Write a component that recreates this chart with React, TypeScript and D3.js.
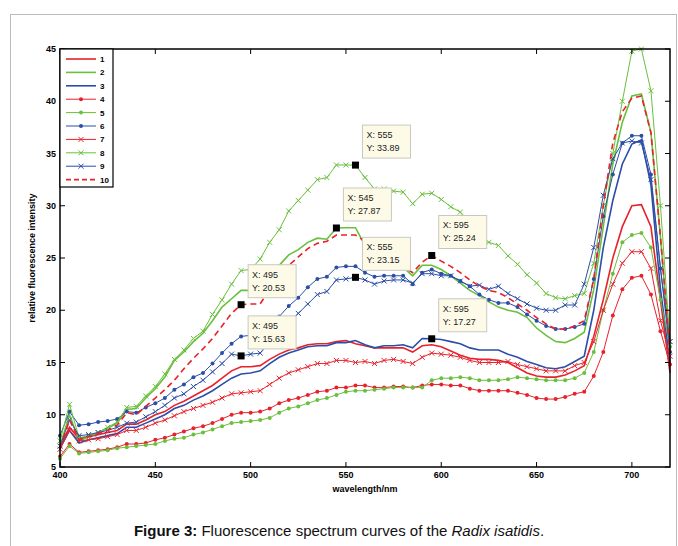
import { useEffect, useRef } from "react";
import * as d3 from "d3";

const wavelengths = d3.range(400, 721, 5);

const s1 = [7,8.8,7.7,7.9,8.1,8.3,8.5,9.1,9.1,9.5,10,10.3,10.9,11.3,11.8,12.3,12.8,13.5,14.2,14.6,14.6,14.7,15.3,15.8,16.2,16.4,16.7,16.8,16.8,17,17.1,16.8,16.6,16.4,16.4,16.4,16.4,16,16.6,16.7,16.5,16.1,15.7,15.4,15.3,15.3,15.2,15,14.5,14,13.7,13.6,13.6,13.8,14.2,14.7,17.5,21,25,28,30,30.1,28,21,14];
const s2 = [7,10,7.5,7.9,8.3,8.7,9.2,10.5,10.6,11.6,12.5,13.6,15.2,16,17,17.8,19,20.3,21.1,21.9,21.9,22.5,23.5,24.3,25.3,25.8,26.5,26.9,26.8,27.87,27.9,27.9,26.2,25,24.7,24.7,24.1,23.3,24.3,24.3,23.9,23.3,22.6,21.9,21.4,20.8,20.3,20,19.8,19.3,18.3,17.6,17,16.9,17.3,17.9,22,28,34,38,40.5,40.7,37,27,16];
const s3 = [6.8,8.5,7.3,7.6,7.8,8,8.2,8.8,8.8,9.2,9.6,10,10.6,10.9,11.4,11.8,12.3,12.9,13.5,13.9,14,14.2,14.9,15.5,15.9,16.2,16.5,16.6,16.6,16.9,16.9,17.1,16.7,16.4,16.6,16.6,16.7,16.4,17.3,17.27,17.2,17,16.8,16.4,16.2,16.2,16.2,15.8,15.5,15.1,14.8,14.5,14.4,14.6,15.1,15.6,20,26,30.5,34,35.9,36.3,32,22,15];
const s4 = [6,7.2,6.4,6.5,6.6,6.7,6.9,7.2,7.2,7.3,7.6,7.8,8.1,8.4,8.7,8.9,9.2,9.6,10,10.2,10.2,10.3,10.6,11.1,11.4,11.6,11.9,12.2,12.3,12.6,12.6,12.8,12.8,12.6,12.6,12.7,12.7,12.6,12.8,12.9,12.9,12.8,12.8,12.5,12.3,12.3,12.3,12.3,12.1,11.9,11.6,11.5,11.5,11.7,12,12.2,13.7,16,19.5,22,23.1,23.3,21.5,18,14.8];
const s5 = [5.8,7,6.3,6.4,6.5,6.6,6.8,6.9,7,7.1,7.2,7.5,7.7,7.8,8.1,8.3,8.6,8.9,9.2,9.3,9.4,9.5,9.7,10.2,10.6,10.8,11.1,11.4,11.6,11.9,12.2,12.3,12.3,12.4,12.5,12.6,12.6,12.6,12.6,13.3,13.5,13.5,13.6,13.5,13.3,13.3,13.3,13.4,13.6,13.5,13.4,13.3,13.3,13.3,13.5,14,16,20,23.5,26.5,27.2,27.4,26,21,16.5];
const s6 = [8,10.3,9,9.1,9.3,9.4,9.6,10.3,10.2,10.7,11.1,11.6,12.4,12.9,13.6,14,14.9,15.9,16.8,17.5,17.6,17.9,18,19.4,20.4,21.2,22.2,23,23.2,24.1,24.2,24.2,23.6,23.2,23.3,23.3,23.3,22.5,23.6,23.9,23.5,23.3,22.8,22.3,21.5,21,20.7,20.7,20.3,19.6,19,18.5,18.2,18.2,18.4,18.7,23,29,33,36,36.7,36.7,33,24,16];
const s7 = [6.7,8.5,7.5,7.6,7.7,7.9,8.1,8.5,8.5,8.8,9.2,9.5,9.9,10.3,10.6,10.9,11.2,11.6,12,12.1,12.2,12.3,12.9,13.5,14,14.3,14.6,14.9,14.9,15.2,15.2,15,15.1,14.9,15.2,15.3,15.1,14.9,15.5,15.9,15.8,15.7,15.5,15.2,15,15,15,15.1,14.8,14.6,14.4,14.2,14.2,14.2,14.7,15,17,20,22.5,24.5,25.6,25.6,24,19,15.6];
const s8 = [7.5,11,7.8,8,8.3,8.8,9.3,10.7,10.8,11.8,12.7,13.9,15.3,16.2,17.3,18,19.6,21,22.5,23.8,23.9,24.9,26.5,27.7,29.5,30.5,31.5,32.5,32.7,33.9,33.9,33.89,32.7,31.6,31.6,31.4,31.3,30.2,31.1,31.2,30.6,29.9,29.4,28.1,26.7,26.5,26.2,25.2,24.4,23.4,22.6,21.6,21.2,21.1,21.4,21.6,24.5,30,35,40,44.8,45,41,30,17];
const s9 = [7,9.5,8,8.1,8.3,8.5,8.8,9.2,9.3,9.8,10.3,10.9,11.6,12,12.7,13.3,14.1,14.9,15.8,15.63,15.8,15.9,17,17.9,18.8,19.7,20.6,21.5,21.8,22.9,23,23.15,22.9,22.5,22.8,22.9,22.9,22.6,23.5,23.5,23.3,23.3,22.8,22.3,22.4,22,22.3,21.6,21.1,20.6,20.2,20,20,20.5,20.5,22.5,26,31,34.5,36,36.2,36,32.5,24,17];
const s10 = [6.8,9.5,7.6,7.9,8.2,8.5,9,10.2,10,10.8,11.6,12.4,13.3,14.4,15.4,16.3,17.3,18.5,19.7,20.53,20.6,20.6,22,23.3,24.3,25.1,25.9,26.4,26.6,27.2,27.2,27.2,26.6,25.5,25,25,24.2,23.6,24.6,25.24,24.7,24.2,23.6,22.9,22.3,21.9,21.7,21.2,20.6,20,19.3,18.7,18.2,18.2,18.5,19,23,30,36,39,40.3,40.5,37,27,16];

const seriesNames = ["1","2","3","4","5","6","7","8","9","10"];
const seriesValues = [s1, s2, s3, s4, s5, s6, s7, s8, s9, s10];
const seriesColors = ["#e8212b","#6abf3c","#2b4ea6","#e8212b","#6abf3c","#2b4ea6","#e8212b","#6abf3c","#2b4ea6","#e8212b"];
const seriesMarkers = ["none","none","none","dot","dot","dot","x","x","x","dash"];

const dataTips = [
  { x: 555, y: 33.89 },
  { x: 545, y: 27.87 },
  { x: 495, y: 20.53 },
  { x: 495, y: 15.63 },
  { x: 555, y: 23.15 },
  { x: 595, y: 25.24 },
  { x: 595, y: 17.27 },
];

const xTicks = [400, 450, 500, 550, 600, 650, 700];
const yTicks = [5, 10, 15, 20, 25, 30, 35, 40, 45];

export default function App() {
  const ref = useRef<SVGSVGElement | null>(null);
  const W = 678, H = 546;
  const left = 60, right = 670, top = 49, bottom = 467;

  useEffect(() => {
    const svg = d3.select(ref.current);
    svg.selectAll("*").remove();
    const font = "Arial, 'Liberation Sans', sans-serif";
    const x = d3.scaleLinear().domain([400, 720]).range([left, right]);
    const y = d3.scaleLinear().domain([5, 45]).range([bottom, top]);

    svg.append("rect").attr("x", 10.5).attr("y", 14.5).attr("width", 666).attr("height", 540)
      .attr("fill", "none").attr("stroke", "#bbb").attr("stroke-width", 1);

    const line = d3.line<number>().x((_, i) => x(wavelengths[i])).y((d) => y(d));

    seriesValues.forEach((vals, k) => {
      const c = seriesColors[k], m = seriesMarkers[k];
      svg.append("path").attr("d", line(vals) as string).attr("fill", "none")
        .attr("stroke", c)
        .attr("stroke-width", m === "none" || m === "dash" ? 1.6 : 1)
        .attr("stroke-dasharray", m === "dash" ? "6,4" : null);
      if (m === "dot") {
        svg.append("g").selectAll("circle").data(vals).join("circle")
          .attr("cx", (_, i) => x(wavelengths[i])).attr("cy", (d) => y(d))
          .attr("r", 2).attr("fill", c);
      } else if (m === "x") {
        svg.append("g").selectAll("path").data(vals).join("path")
          .attr("transform", (d, i) => `translate(${x(wavelengths[i])},${y(d)})`)
          .attr("d", "M-2.5,-2.5L2.5,2.5M-2.5,2.5L2.5,-2.5")
          .attr("stroke", c).attr("stroke-width", 1);
      }
    });

    // frame + ticks
    svg.append("rect").attr("x", left).attr("y", top).attr("width", right - left).attr("height", bottom - top)
      .attr("fill", "none").attr("stroke", "#000").attr("stroke-width", 1.5);
    const g = svg.append("g").attr("font-family", font).attr("font-weight", "bold").attr("font-size", 9);
    xTicks.forEach((t) => {
      g.append("line").attr("x1", x(t)).attr("x2", x(t)).attr("y1", bottom).attr("y2", bottom - 5).attr("stroke", "#000");
      g.append("line").attr("x1", x(t)).attr("x2", x(t)).attr("y1", top).attr("y2", top + 5).attr("stroke", "#000");
      g.append("text").attr("x", x(t)).attr("y", bottom + 11).attr("text-anchor", "middle").text(t);
    });
    yTicks.forEach((t) => {
      g.append("line").attr("x1", left).attr("x2", left + 5).attr("y1", y(t)).attr("y2", y(t)).attr("stroke", "#000");
      g.append("line").attr("x1", right).attr("x2", right - 5).attr("y1", y(t)).attr("y2", y(t)).attr("stroke", "#000");
      g.append("text").attr("x", left - 4).attr("y", y(t) + 3).attr("text-anchor", "end").text(t);
    });
    g.append("text").attr("x", (left + right) / 2).attr("y", bottom + 25).attr("text-anchor", "middle").text("wavelength/nm");
    g.append("text").attr("transform", `translate(35,${(top + bottom) / 2}) rotate(-90)`)
      .attr("text-anchor", "middle").text("relative fluorescence intensity");

    // data tips
    dataTips.forEach((d) => {
      const px = x(d.x), py = y(d.y);
      const tg = svg.append("g").attr("font-family", font).attr("font-size", 9);
      tg.append("rect").attr("x", px + 7).attr("y", py - 40).attr("width", 48).attr("height", 33)
        .attr("fill", "#fdfbe8").attr("stroke", "#c8c8c0");
      tg.append("text").attr("x", px + 11).attr("y", py - 27).attr("fill", "#222").text(`X: ${d.x}`);
      tg.append("text").attr("x", px + 11).attr("y", py - 14).attr("fill", "#222").text(`Y: ${d.y.toFixed(2)}`);
      tg.append("rect").attr("x", px - 3.5).attr("y", py - 3.5).attr("width", 7).attr("height", 7).attr("fill", "#000");
    });

    // legend
    const lg = svg.append("g").attr("font-family", font).attr("font-weight", "bold").attr("font-size", 8);
    lg.append("rect").attr("x", left).attr("y", top).attr("width", 53).attr("height", 138)
      .attr("fill", "#fff").attr("stroke", "#000").attr("stroke-width", 1.2);
    seriesNames.forEach((n, k) => {
      const ly = top + 10 + k * 13.4;
      const c = seriesColors[k], m = seriesMarkers[k];
      lg.append("line").attr("x1", left + 6).attr("x2", left + 36).attr("y1", ly).attr("y2", ly)
        .attr("stroke", c).attr("stroke-width", m === "none" || m === "dash" ? 1.6 : 1)
        .attr("stroke-dasharray", m === "dash" ? "5,3" : null);
      if (m === "dot") lg.append("circle").attr("cx", left + 21).attr("cy", ly).attr("r", 2).attr("fill", c);
      if (m === "x") lg.append("path").attr("transform", `translate(${left + 21},${ly})`)
        .attr("d", "M-2.5,-2.5L2.5,2.5M-2.5,2.5L2.5,-2.5").attr("stroke", c);
      lg.append("text").attr("x", left + 40).attr("y", ly + 3).attr("fill", "#000").text(n);
    });

    // caption
    const cap = svg.append("text").attr("x", W / 2).attr("y", 536).attr("text-anchor", "middle")
      .attr("font-family", font).attr("font-size", 15).attr("fill", "#111");
    cap.append("tspan").attr("font-weight", "bold").text("Figure 3:");
    cap.append("tspan").text(" Fluorescence spectrum curves of the ");
    cap.append("tspan").attr("font-style", "italic").text("Radix isatidis");
    cap.append("tspan").text(".");
  }, []);

  return (
    <svg ref={ref} width={W} height={H}
      style={{ position: "absolute", left: 0, top: 0, background: "#fff" }} />
  );
}
